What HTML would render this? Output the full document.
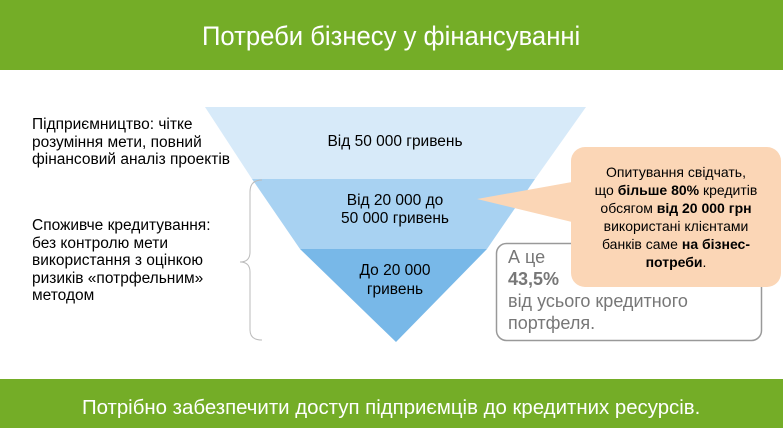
<!DOCTYPE html>
<html><head><meta charset="utf-8"><style>
body{margin:0;width:783px;height:428px;overflow:hidden;background:#fff;font-family:"Liberation Sans",sans-serif;position:relative}
.g{position:absolute;left:0;width:783px;background:#74ad27;color:#fff;text-align:center;overflow:hidden}
.t{position:absolute;font-size:15.5px;color:#000;line-height:17.5px;white-space:nowrap}
</style></head><body>
<div class="g" style="top:0;height:70px;font-size:27px;line-height:72px"><span style="display:inline-block;transform:scaleX(0.95)">Потреби бізнесу у фінансуванні</span></div>
<div class="g" style="top:379px;height:49px;font-size:20px;line-height:24px"><span style="display:inline-block;transform:scaleX(1.02);margin-top:17px">Потрібно забезпечити доступ підприємців до кредитних ресурсів.</span></div>
<svg width="783" height="428" style="position:absolute;left:0;top:0">
<polygon points="205,107 586,107 535,179 252,179" fill="#d7eaf9"/>
<polygon points="252,179 535,179 487,249 300,249" fill="#a8d2f2"/>
<polygon points="300,249 487,249 396,342" fill="#78b8e8"/>
<path d="M262,180 Q250,180 250,192 L250,252 Q250,262 240,262 Q250,262 250,272 L250,330 Q250,340 262,340" fill="none" stroke="#bbb" stroke-width="1"/>
<rect x="496.5" y="243.5" width="265" height="97" rx="10" fill="#fff" stroke="#999" stroke-width="1.5"/>
<rect x="571" y="147" width="210" height="140" rx="14" fill="#fbd6b6"/>
<polygon points="572,182 477,199 572,222" fill="#fbd6b6"/>
</svg>
<div class="t" style="left:32px;top:116px">Підприємництво: чітке<br>розуміння мети, повний<br>фінансовий аналіз проектів</div>
<div class="t" style="left:32px;top:217px">Споживче кредитування:<br>без контролю мети<br>використання з оцінкою<br>ризиків «потрфельним»<br>методом</div>
<div class="t" style="left:290px;width:210px;text-align:center;top:133px">Від 50 000 гривень</div>
<div class="t" style="left:290px;width:210px;text-align:center;top:192px">Від 20 000 до<br>50 000 гривень</div>
<div class="t" style="left:290px;width:210px;text-align:center;top:261px;line-height:19px">До 20 000<br>гривень</div>
<div style="position:absolute;left:508px;top:246px;font-size:18px;line-height:22px;color:#777;white-space:nowrap">А це<br><b>43,5%</b><br>від усього кредитного<br>портфеля.</div>
<div class="t" style="left:571px;width:210px;text-align:center;top:163px;line-height:18px;font-size:14px">Опитування свідчать,<br>що <b>більше 80%</b> кредитів<br>обсягом <b>від 20 000 грн</b><br>використані клієнтами<br>банків саме <b>на бізнес-<br>потреби</b>.</div>
</body></html>
